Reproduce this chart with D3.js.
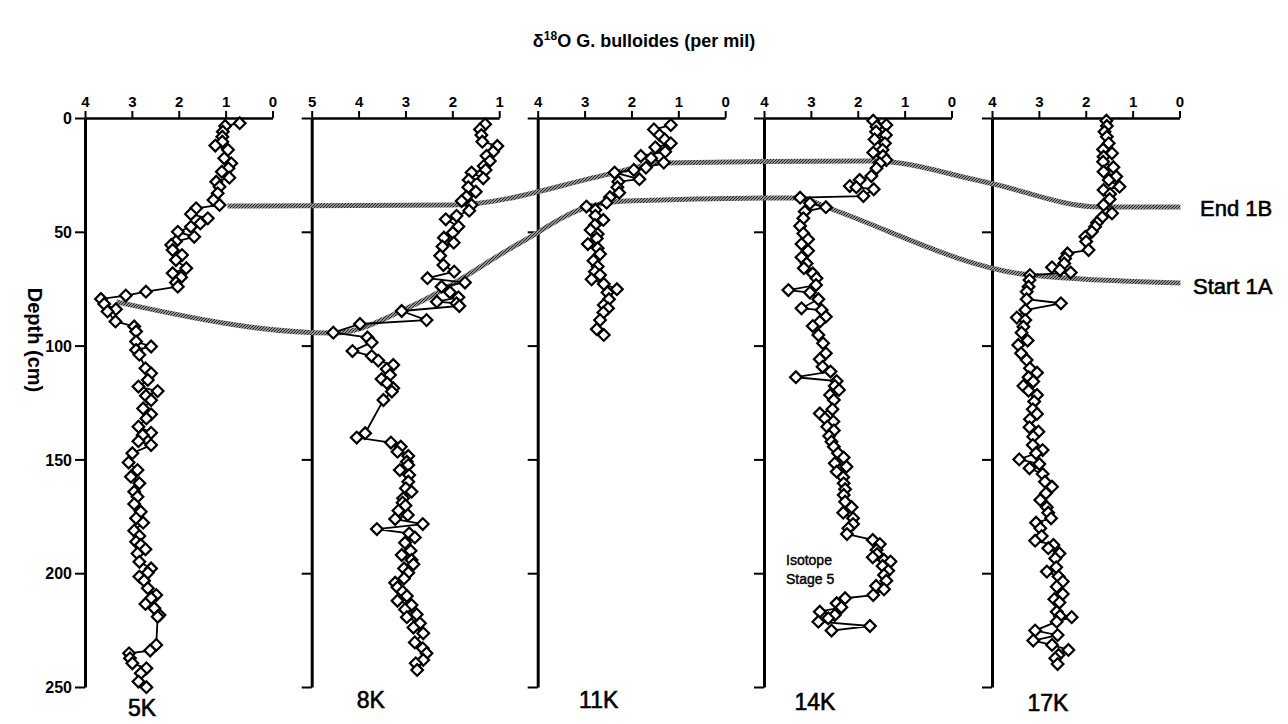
<!DOCTYPE html>
<html>
<head>
<meta charset="utf-8">
<script src="https://cdn.jsdelivr.net/npm/d3@7"></script>
<style>
  body { margin: 0; background: #fff; }
  svg { font-family: "Liberation Sans", Arial, sans-serif; }
  .axis path, .axis line { stroke: #000; }
  .axis text { font-weight: bold; fill: #000; }
</style>
</head>
<body>
<svg id="chart" width="1288" height="724"></svg>
<script>
// cores and their top-axis domains (per mil, reversed)
const cores = ["5K", "8K", "11K", "14K", "17K"];
const domains = [[4, 0], [5, 1], [4, 0], [4, 0], [4, 0]];
const depthTicks = [0, 50, 100, 150, 200, 250];

// [depth cm, d18O per mil]
const core5K = [[2.3,0.70],[3.5,1.01],[6,1.06],[8.2,1.07],[10.4,1.07],[12.1,1.22],[14,0.95],[17.7,1.03],[19.9,0.88],[22.1,0.94],[23.6,1.08],[26.2,0.92],[28,1.20],[30.2,1.13],[33.1,1.17],[36,1.26],[38.2,1.13],[39.7,1.63],[42.2,1.74],[44.1,1.38],[46.3,1.54],[47.8,1.74],[50,2.02],[52.2,1.67],[54.3,2.06],[55.8,2.16],[58,2.13],[60.2,1.93],[62.4,2.06],[66,1.84],[68.2,2.13],[70,1.95],[72.3,2.06],[74.1,2.02],[76.3,2.70],[78,3.13],[79.5,3.66],[81.7,3.59],[84,3.34],[85,3.52],[89.4,3.35],[91.6,2.95],[93.8,2.91],[98.2,2.91],[100.4,2.59],[101.9,2.91],[104,2.84],[110,2.71],[112.2,2.59],[115.1,2.66],[118,2.86],[120,2.45],[122,2.70],[124,2.59],[127.6,2.76],[130.2,2.59],[132,2.69],[135.6,2.86],[138.3,2.59],[139.3,2.77],[142,2.86],[143.7,2.59],[147.3,2.99],[151.4,3.07],[154.7,2.88],[157.6,3.02],[160.5,2.84],[164.2,2.95],[166.4,2.88],[169.6,2.95],[173,2.81],[175.9,2.91],[177.8,2.76],[181.3,2.95],[183.7,2.84],[186.2,2.91],[187.6,2.81],[189.5,2.71],[191.3,2.88],[195,2.84],[197.9,2.59],[199.8,2.66],[201.5,2.84],[203.3,2.74],[206.6,2.66],[209.6,2.48],[211,2.59],[213.5,2.71],[215.4,2.52],[218.4,2.41],[219.1,2.45],[231.5,2.48],[234,2.61],[235.2,3.06],[237.4,3.04],[239.6,2.99],[241.8,2.69],[244,2.81],[247.6,2.86],[250.1,2.69]];

const core8K = [[2.8,1.30],[5,1.41],[7.5,1.38],[10.4,1.36],[12.3,1.04],[14.8,1.13],[16.6,1.27],[18.9,1.20],[21.1,1.33],[22.8,1.29],[24,1.59],[26.5,1.34],[27.2,1.65],[30.4,1.66],[32.4,1.50],[34.6,1.70],[36.5,1.80],[38.2,1.59],[40.7,1.64],[43,1.91],[44.5,2.14],[47.7,1.87],[50.4,1.99],[52.6,2.18],[54.8,1.97],[56.5,2.21],[60.5,2.26],[64.6,2.19],[67.5,1.96],[70.4,2.53],[72.3,1.73],[74.1,2.23],[76.6,2.05],[78.8,1.87],[80.7,2.33],[81.4,1.91],[82.6,1.85],[84.8,3.08],[88.8,2.55],[90.5,3.97],[94.3,4.54],[96.4,3.81],[98.6,3.72],[102.4,4.13],[104.6,3.72],[106.6,3.58],[108.5,3.26],[110.3,3.40],[112.9,3.33],[114.7,3.51],[116.5,3.39],[118.7,3.26],[120.2,3.29],[123.9,3.47],[138.5,3.86],[140.4,4.04],[142.6,3.31],[144.4,3.10],[146.6,3.17],[148.5,2.94],[151,2.97],[152.5,2.94],[154.7,3.12],[156.9,2.92],[159.8,2.94],[162.7,2.99],[164.2,2.87],[167.1,3.05],[169,3.06],[170.3,3.00],[172.5,3.15],[174.4,2.95],[176.2,3.22],[178.4,2.63],[180.6,3.61],[182.5,2.92],[184.3,2.80],[186.6,3.01],[190.1,2.89],[192,3.08],[194.2,2.87],[196.1,2.83],[197.9,3.03],[199.8,2.94],[202.3,3.03],[204.2,3.22],[206.2,3.17],[208.1,3.06],[210,2.97],[212.1,3.17],[214,2.87],[215.9,3.01],[218.1,2.76],[219.3,2.97],[222,2.69],[223.9,2.83],[226.4,2.62],[230.4,2.80],[233,2.63],[235.2,2.55],[238.1,2.62],[239.6,2.78],[242.5,2.75]];

const core11K = [[3.1,1.16],[5,1.52],[7.5,1.40],[9.4,1.29],[11.1,1.16],[12.9,1.49],[14.8,1.28],[16.7,1.80],[17.7,1.58],[19.6,1.31],[21.8,1.69],[22.8,1.95],[24,2.36],[26.9,1.83],[28,2.28],[30.4,2.30],[32.8,2.26],[34.8,2.46],[37.2,2.53],[38.9,2.96],[40.4,2.77],[43,2.77],[44.8,2.60],[47,2.78],[49.2,2.87],[51,2.72],[52.9,2.74],[55.4,2.93],[57.2,2.72],[59.8,2.67],[62.7,2.81],[65.3,2.72],[67.5,2.78],[69,2.67],[70.9,2.85],[72.9,2.59],[75.2,2.31],[76.7,2.51],[79.6,2.48],[82.2,2.59],[83.6,2.50],[85.5,2.60],[88.8,2.67],[92.8,2.74],[95.3,2.59]];

const core14K = [[1.2,1.67],[3.1,1.39],[3.8,1.60],[6,1.61],[7.5,1.40],[9.4,1.64],[11.1,1.42],[14,1.47],[15.2,1.67],[16.7,1.46],[18.5,1.39],[19.9,1.53],[22.1,1.60],[25.5,1.71],[27.2,1.96],[29.9,2.17],[30.4,2.03],[31.3,1.66],[34.3,1.88],[35,3.23],[37.5,3.02],[39.2,2.68],[41.1,3.13],[44.1,3.16],[47.5,3.23],[50.7,3.16],[53.3,3.06],[55.4,3.20],[58.3,3.06],[61.2,3.20],[63.9,3.09],[66,3.15],[68.3,2.96],[70.4,2.88],[73.4,2.89],[75.6,3.48],[76.7,3.02],[79.6,2.84],[83.6,3.20],[84.4,2.77],[87.3,2.68],[89.5,2.81],[91.4,2.96],[95.3,2.84],[99,2.74],[103.4,2.68],[106,2.81],[109.3,2.75],[111.4,2.58],[113.9,3.32],[115.6,2.45],[117.7,2.49],[119.5,2.40],[121.7,2.59],[123.9,2.51],[128,2.54],[129.8,2.81],[132,2.70],[133.4,2.52],[135.6,2.65],[137.3,2.51],[139.7,2.61],[142.2,2.56],[144.4,2.51],[147.3,2.42],[149.2,2.30],[151.7,2.49],[153.2,2.24],[155.4,2.45],[157.8,2.31],[160.5,2.30],[163.1,2.27],[165.6,2.30],[168.6,2.27],[171,2.13],[173.4,2.31],[175.9,2.10],[178.4,2.10],[180.3,2.20],[182.8,2.23],[185.4,1.68],[187.2,1.53],[189.8,1.60],[191.6,1.59],[193,1.68],[194.2,1.44],[194.9,1.30],[196.8,1.47],[198.9,1.35],[200.8,1.44],[203.3,1.39],[205.6,1.61],[207.1,1.44],[209.6,1.67],[211,2.27],[213.2,2.45],[215,2.35],[216.9,2.81],[218.4,2.49],[219.8,2.63],[221.3,2.84],[223.2,1.74],[225.2,2.56]];

const core17K = [[1.2,1.56],[3.5,1.55],[6,1.60],[8.2,1.55],[11.1,1.51],[13.8,1.63],[15.5,1.44],[17,1.62],[19.2,1.63],[21.6,1.41],[23.6,1.62],[25.7,1.35],[27.2,1.51],[30.2,1.28],[31.6,1.62],[33.4,1.48],[35.7,1.49],[38.2,1.62],[41.9,1.44],[43.6,1.65],[46,1.76],[47.8,1.80],[50,1.87],[52.2,2.01],[54.3,1.99],[58,1.94],[59.5,2.39],[61.7,2.44],[63.9,2.46],[65.6,2.72],[66.8,2.55],[67.9,2.32],[69,3.19],[71.2,3.20],[74.1,3.22],[76.3,3.26],[79.6,3.26],[81.4,2.53],[84.4,3.29],[87.7,3.47],[88.8,3.29],[91.7,3.33],[94.3,3.37],[97.8,3.24],[99.7,3.44],[103.4,3.38],[106.3,3.26],[110,3.19],[111.9,3.04],[113.9,3.22],[115.8,3.12],[117.7,3.33],[119.8,3.22],[121.7,3.04],[124.6,3.10],[128,3.13],[130,3.04],[132.4,3.19],[135.9,3.20],[137.8,3.01],[140,3.12],[143.7,3.13],[145.9,2.92],[147.3,3.06],[150,3.42],[152,2.99],[153.9,3.20],[156.4,2.92],[159.8,2.87],[162,2.72],[164.9,2.85],[167.8,2.97],[171,2.83],[173.4,2.80],[175.9,2.74],[177.8,3.06],[180.3,2.97],[183.7,2.94],[185.7,3.08],[187.6,2.69],[189,2.80],[191.3,2.56],[193.5,2.65],[197.4,2.63],[199.3,2.83],[201.5,2.58],[203.7,2.49],[205.9,2.62],[209.1,2.49],[211.4,2.67],[212.9,2.56],[216.9,2.62],[218.8,2.55],[219.3,2.30],[221.3,2.62],[225.2,3.08],[227.2,2.60],[229.6,3.12],[231.5,2.72],[233.7,2.37],[235.9,2.58],[237.4,2.65],[239.9,2.60]];

const series = [core5K, core8K, core11K, core14K, core17K];

// correlation ties: [core index, d18O, depth]
const end1B = [[0,0.96,38.7],[1,1.99,38.2],[2,2.38,24.2],[2,1.36,19.8],[3,1.68,18.9],[4,4.15,28.1],[4,1.69,39.1],[4,-0.02,39.1]];
const start1A = [[0,3.33,80.8],[1,4.55,94.5],[1,2.69,80.8],[1,0.56,54.9],[2,2.94,39.1],[2,2.12,36.5],[3,3.23,35.1],[3,2.68,39.1],[4,3.19,69],[4,-0.02,72.5]];

const svg = d3.select("#chart");
const lefts = [85, 311.7, 537.7, 764, 992];
const panelW = 187.5;

const y = d3.scaleLinear().domain([0, 250]).range([118, 687]);
const xs = domains.map((dom, i) => d3.scaleLinear().domain(dom).range([lefts[i], lefts[i] + panelW]));

// hatch pattern for the correlation bands
const defs = svg.append("defs");
const pat = defs.append("pattern")
    .attr("id", "hatch")
    .attr("patternUnits", "userSpaceOnUse")
    .attr("width", 3).attr("height", 3);
pat.append("rect").attr("width", 3).attr("height", 3).attr("fill", "#c4c4c4");
pat.append("path").attr("d", "M0,3L3,0M-1,1L1,-1M2,4L4,2").attr("stroke", "#222").attr("stroke-width", 1.2);

// axes
cores.forEach((c, i) => {
  const gx = svg.append("g").attr("class", "axis")
      .attr("transform", `translate(0,${y(0)})`)
      .call(d3.axisTop(xs[i]).ticks(4).tickSize(7).tickSizeOuter(0).tickPadding(4).tickFormat(d3.format("d")));
  gx.select(".domain").attr("stroke-width", 2.5);
  gx.selectAll(".tick line").attr("stroke-width", 2);
  gx.selectAll(".tick text").style("font-size", "15px");

  const gy = svg.append("g").attr("class", "axis")
      .attr("transform", `translate(${lefts[i]},0)`)
      .call(d3.axisLeft(y).tickValues(depthTicks).tickSize(10).tickSizeOuter(0).tickPadding(3)
        .tickFormat(i === 0 ? d3.format("d") : ""));
  gy.select(".domain").attr("stroke-width", 3);
  gy.selectAll(".tick line").attr("stroke-width", 2);
  gy.selectAll(".tick text").style("font-size", "16px").attr("dy", "0.35em");

  svg.append("text")
      .attr("x", lefts[i] + [57, 59, 61, 51, 56][i])
      .attr("y", [716, 708, 708, 710, 711][i])
      .attr("text-anchor", "middle")
      .style("font-size", "23px")
      .attr("stroke", "#000").attr("stroke-width", 0.6)
      .text(c);
});

// correlation bands
const tieLine = d3.line()
    .x(d => xs[d[0]](d[1]))
    .y(d => y(d[2]))
    .curve(d3.curveMonotoneX);

[end1B, start1A].forEach(t => {
  svg.append("path")
      .attr("d", tieLine(t))
      .attr("fill", "none")
      .attr("stroke", "url(#hatch)")
      .attr("stroke-width", 5);
});

// isotope records
const diamond = d3.symbol(d3.symbolSquare, 68);
series.forEach((s, i) => {
  const g = svg.append("g");
  g.append("path")
      .datum(s)
      .attr("d", d3.line().x(d => xs[i](d[1])).y(d => y(d[0])))
      .attr("fill", "none")
      .attr("stroke", "#000")
      .attr("stroke-width", 1.8);
  g.selectAll("path.pt")
    .data(s)
    .join("path")
      .attr("class", "pt")
      .attr("d", diamond)
      .attr("transform", d => `translate(${xs[i](d[1])},${y(d[0])}) rotate(45)`)
      .attr("fill", "#fff")
      .attr("stroke", "#000")
      .attr("stroke-width", 2.2);
});

// labels
const title = svg.append("text")
    .attr("x", 644).attr("y", 47)
    .attr("text-anchor", "middle")
    .style("font-size", "18px")
    .style("font-weight", "bold");
title.append("tspan").text("δ");
title.append("tspan").attr("dy", -7).style("font-size", "12px").text("18");
title.append("tspan").attr("dy", 7).text("O G. bulloides  (per mil)");

svg.append("text")
    .attr("transform", "translate(28,340) rotate(90)")
    .attr("text-anchor", "middle")
    .style("font-size", "20px")
    .style("font-weight", "bold")
    .text("Depth  (cm)");

svg.append("text").attr("x", 1200).attr("y", 216)
    .style("font-size", "22px").attr("stroke", "#000").attr("stroke-width", 0.6).text("End 1B");
svg.append("text").attr("x", 1193).attr("y", 294)
    .style("font-size", "22px").attr("stroke", "#000").attr("stroke-width", 0.6).text("Start 1A");

const iso = svg.append("text").attr("x", 786).style("font-size", "14px").attr("stroke", "#000").attr("stroke-width", 0.4);
iso.append("tspan").attr("x", 786).attr("y", 565).text("Isotope");
iso.append("tspan").attr("x", 786).attr("y", 584).text("Stage 5");
</script>
</body>
</html>
